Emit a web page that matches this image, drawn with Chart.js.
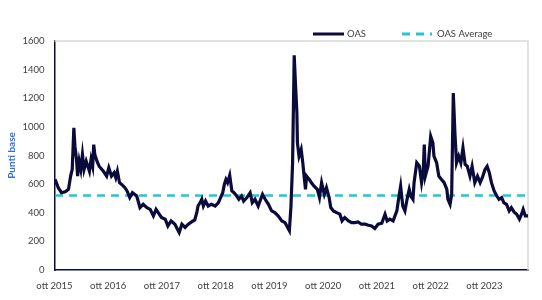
<!DOCTYPE html>
<html>
<head>
<meta charset="utf-8">
<script src="https://cdn.jsdelivr.net/npm/chart.js@4.4.1/dist/chart.umd.min.js"></script>
<style>
    html, body { margin: 0; padding: 0; background: #fff; }
    #wrap { width: 542px; height: 300px; }
</style>
</head>
<body>
<div id="wrap"><canvas id="oasChart"></canvas></div>
<script>

// data (x = decimal year)

const oasDates = [
    2015.76, 2015.82, 2015.88, 2015.95, 2016.01, 2016.05, 2016.08, 2016.11, 2016.13, 2016.16,
    2016.18, 2016.21, 2016.24, 2016.27, 2016.30, 2016.34, 2016.37, 2016.40, 2016.43, 2016.46,
    2016.48, 2016.50, 2016.54, 2016.58, 2016.66, 2016.72, 2016.76, 2016.81, 2016.86, 2016.89,
    2016.92, 2016.96, 2017.00, 2017.06, 2017.10, 2017.15, 2017.20, 2017.28, 2017.34, 2017.40,
    2017.47, 2017.53, 2017.59, 2017.64, 2017.68, 2017.74, 2017.81, 2017.86, 2017.92, 2017.99,
    2018.07, 2018.12, 2018.18, 2018.24, 2018.30, 2018.36, 2018.40, 2018.42, 2018.46, 2018.49,
    2018.52, 2018.56, 2018.61, 2018.67, 2018.74, 2018.80, 2018.84, 2018.88, 2018.91, 2018.94,
    2018.97, 2019.01, 2019.05, 2019.09, 2019.14, 2019.18, 2019.23, 2019.27, 2019.33, 2019.39,
    2019.43, 2019.48, 2019.54, 2019.62, 2019.67, 2019.73, 2019.79, 2019.85, 2019.91, 2019.98,
    2020.04, 2020.12, 2020.15, 2020.18, 2020.21, 2020.23, 2020.26, 2020.27, 2020.30, 2020.34,
    2020.37, 2020.40, 2020.42, 2020.44, 2020.49, 2020.53, 2020.58, 2020.64, 2020.68, 2020.72,
    2020.77, 2020.81, 2020.86, 2020.89, 2020.94, 2021.00, 2021.06, 2021.10, 2021.15, 2021.22,
    2021.28, 2021.34, 2021.40, 2021.46, 2021.53, 2021.59, 2021.65, 2021.71, 2021.77, 2021.84,
    2021.90, 2021.94, 2021.99, 2022.05, 2022.12, 2022.16, 2022.19, 2022.23, 2022.27, 2022.31,
    2022.35, 2022.38, 2022.42, 2022.44, 2022.49, 2022.54, 2022.58, 2022.61, 2022.63, 2022.65,
    2022.70, 2022.75, 2022.79, 2022.81, 2022.86, 2022.90, 2022.95, 2023.00, 2023.05, 2023.07,
    2023.11, 2023.14, 2023.17, 2023.20, 2023.23, 2023.27, 2023.31, 2023.35, 2023.39, 2023.43,
    2023.48, 2023.52, 2023.57, 2023.62, 2023.67, 2023.71, 2023.76, 2023.80, 2023.84, 2023.88,
    2023.93, 2023.98, 2024.02, 2024.07, 2024.11, 2024.16, 2024.21, 2024.25, 2024.30, 2024.35,
    2024.40, 2024.44, 2024.47, 2024.51, 2024.56
];

const oasValues = [
    633, 575, 540, 547, 563, 656, 703, 993, 865, 772,
    656, 760, 703, 807, 703, 760, 725, 690, 772, 725,
    876, 807, 760, 725, 690, 656, 714, 656, 680, 645,
    690, 610, 598, 575, 552, 506, 540, 517, 436, 459,
    436, 424, 378, 424, 401, 367, 355, 308, 343, 320,
    262, 320, 297, 320, 336, 350, 406, 447, 471, 494,
    447, 482, 447, 459, 447, 471, 506, 540, 598, 633,
    610, 661, 552, 540, 517, 494, 517, 482, 506, 540,
    471, 494, 447, 529, 494, 459, 413, 401, 378, 343,
    331, 275, 447, 749, 1500, 1329, 1097, 888, 795, 842,
    749, 633, 563, 656, 633, 610, 586, 563, 506, 610,
    529, 575, 506, 436, 413, 401, 390, 343, 367, 343,
    331, 331, 336, 320, 320, 313, 308, 290, 320, 327,
    390, 343, 355, 343, 413, 517, 586, 447, 413, 494,
    563, 517, 494, 610, 749, 725, 610, 680, 876, 656,
    725, 934, 888, 795, 749, 656, 633, 610, 563, 494,
    459, 529, 1236, 958, 749, 795, 749, 853, 737, 725,
    656, 725, 610, 656, 610, 645, 703, 725, 680, 610,
    552, 517, 494, 506, 471, 459, 413, 436, 406, 390,
    355, 390, 424, 378, 378
];

const oasAverage = 520;

const tickYears = [2015, 2016, 2017, 2018, 2019, 2020, 2021, 2022, 2023];
const tickMonth = 'ott';
const yTicks = [0, 200, 400, 600, 800, 1000, 1200, 1400, 1600];

const navy = '#0b0b3b';
const cyan = '#22c7d1';
const tickColor = '#404040';
const fontFamily = 'Lato, "Open Sans", sans-serif';

// plot frame (light top/right border) and a small hand-placed legend
const framePlugin = {
    id: 'frame',
    beforeDatasetsDraw(chart) {
        const { ctx, chartArea: a } = chart;
        ctx.save();
        ctx.strokeStyle = '#d9d9d9';
        ctx.lineWidth = 1.5;
        ctx.beginPath();
        ctx.moveTo(a.left, a.top);
        ctx.lineTo(a.right, a.top);
        ctx.lineTo(a.right, a.bottom);
        ctx.stroke();
        ctx.restore();
    },
    afterDraw(chart) {
        const { ctx, chartArea: a } = chart;
        const y = a.top - 7;
        ctx.save();
        ctx.font = '9.5px ' + fontFamily;
        ctx.fillStyle = tickColor;
        ctx.textBaseline = 'middle';

        ctx.strokeStyle = navy;
        ctx.lineWidth = 3;
        ctx.beginPath();
        ctx.moveTo(a.right - 215, y);
        ctx.lineTo(a.right - 184, y);
        ctx.stroke();
        ctx.fillText('OAS', a.right - 181, y);

        ctx.strokeStyle = cyan;
        ctx.setLineDash([8, 6]);
        ctx.beginPath();
        ctx.moveTo(a.right - 126, y);
        ctx.lineTo(a.right - 96, y);
        ctx.stroke();
        ctx.setLineDash([]);
        ctx.fillText('OAS Average', a.right - 91, y);
        ctx.restore();
    }
};

new Chart(document.getElementById('oasChart'), {
    type: 'line',
    data: {
        datasets: [{
            label: 'OAS',
            data: oasDates.map((d, i) => ({ x: d, y: oasValues[i] })),
            borderColor: navy,
            borderWidth: 3.2,
            pointRadius: 0,
            tension: 0,
            order: 1,
        }, {
            label: 'OAS Average',
            data: [{ x: oasDates[0], y: oasAverage }, { x: oasDates[oasDates.length - 1], y: oasAverage }],
            borderColor: cyan,
            borderWidth: 2.5,
            borderDash: [8, 6],
            pointRadius: 0,
            order: 2,
        }]
    },
    options: {
        responsive: true,
        maintainAspectRatio: false,
        animation: false,
        layout: { padding: { top: 41, right: 14, left: 0, bottom: 0 } },
        plugins: {
            legend: { display: false },
            tooltip: { enabled: false },
        },
        scales: {
            x: {
                type: 'linear',
                min: 2015.75,
                max: 2024.56,
                afterBuildTicks: s => { s.ticks = tickYears.map(y => ({ value: y + 0.75 })); },
                afterFit: s => { s.height = 30; },
                grid: { display: false, drawTicks: false },
                border: { display: true, color: navy, width: 1.5 },
                ticks: {
                    padding: 10,
                    color: tickColor,
                    font: { family: fontFamily, size: 9.5 },
                    maxRotation: 0,
                    callback: v => tickMonth + ' ' + Math.round(v - 0.75),
                },
            },
            y: {
                min: 0,
                max: 1600,
                afterBuildTicks: s => { s.ticks = yTicks.map(v => ({ value: v })); },
                afterFit: s => { s.width = 54.5; },
                grid: { display: false, drawTicks: false },
                border: { display: true, color: navy, width: 1.5 },
                ticks: {
                    padding: 10,
                    color: tickColor,
                    font: { family: fontFamily, size: 9.5 },
                    callback: v => String(v),
                },
                title: {
                    display: true,
                    text: 'Punti base',
                    color: '#2f74d8',
                    font: { family: fontFamily, size: 10, weight: 'bold' },
                    padding: { top: 6, bottom: 0 },
                },
            },
        },
    },
    plugins: [framePlugin],
});
</script>
</body>
</html>
